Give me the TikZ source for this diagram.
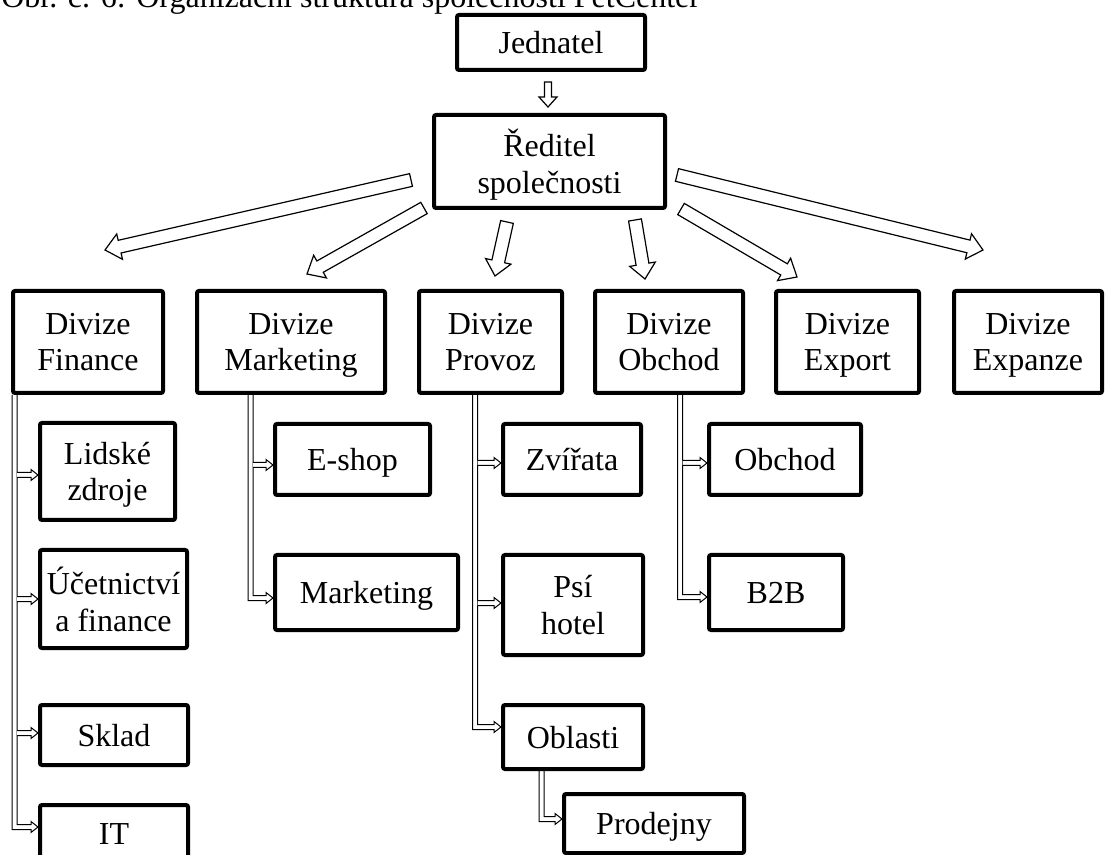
\documentclass[tikz,border=0pt]{standalone}
\usepackage{fontspec}
\setmainfont{Liberation Serif}
\usetikzlibrary{positioning, calc, backgrounds}

\begin{document}
\begin{tikzpicture}[
    x=0.75pt, y=-0.75pt,
    font=\fontsize{24}{27.5}\selectfont,
    box/.style={draw, line width=3pt, rounded corners=1.5pt, align=center, inner sep=0pt, text depth=0pt},
    blk/.style n args={3}{draw, fill=white, line width=0.9pt, line join=miter, to path={
        ($(\tikztostart)!#1!90:(\tikztotarget)$)
        -- ($(\tikztotarget)!#3!(\tikztostart)!#1!90:(\tikztotarget)$)
        -- ($(\tikztotarget)!#3!(\tikztostart)!#2!90:(\tikztotarget)$)
        -- (\tikztotarget)
        -- ($(\tikztotarget)!#3!(\tikztostart)!#2!-90:(\tikztotarget)$)
        -- ($(\tikztotarget)!#3!(\tikztostart)!#1!-90:(\tikztotarget)$)
        -- ($(\tikztostart)!#1!-90:(\tikztotarget)$) -- cycle}},
    barr/.style={blk={4.875pt}{9.75pt}{11.25pt}},
    sarr/.style={blk={2.625pt}{6.75pt}{7.5pt}},
    elb/.style={draw, fill=white, line width=0.75pt, line join=miter, to path={
        let \p1=(\tikztostart), \p2=(\tikztotarget) in
        (\x1-1.875pt,\y1) -- (\x1-1.875pt,\y2-1.875pt) -- (\x2-5.25pt,\y2-1.875pt)
        -- (\x2-5.25pt,\y2-4.125pt) -- (\x2,\y2) -- (\x2-5.25pt,\y2+4.125pt)
        -- (\x2-5.25pt,\y2+1.875pt) -- (\x1+1.875pt,\y2+1.875pt) -- (\x1+1.875pt,\y1)}},
    brn/.style={draw, fill=white, line width=0.75pt, line join=miter, to path={
        let \p1=(\tikztostart), \p2=(\tikztotarget) in
        (\x1+1.875pt,\y2+1.875pt) -- (\x2-5.25pt,\y2+1.875pt) -- (\x2-5.25pt,\y2+4.125pt)
        -- (\x2,\y2) -- (\x2-5.25pt,\y2-4.125pt) -- (\x2-5.25pt,\y2-1.875pt)
        -- (\x1+1.875pt,\y2-1.875pt)}},
  ]
  \useasboundingbox (0,0) rectangle (1111,855);

  \node[anchor=base west, inner sep=0pt] (title) at (1,8) {Obr. č. 6: Organizační struktura společnosti PetCenter};

  % top
  \node[box, minimum width=141pt, minimum height=41.25pt] (jed) at (551,42.5) {Jednatel};
  \node[box, minimum width=173.25pt, minimum height=69.75pt] (red) at (549.5,161.5) {Ředitel\\společnosti};

  % divisions
  \node[box, minimum width=112.5pt, minimum height=76.5pt] (fin) at (88,342) {Divize\\Finance};
  \node[box, minimum width=141pt, minimum height=76.5pt] (mkt) at (291,342) {Divize\\Marketing};
  \node[box, minimum width=107.25pt, minimum height=76.5pt] (prov) at (490.5,342) {Divize\\Provoz};
  \node[box, minimum width=111pt, minimum height=76.5pt] (obch) at (669,342) {Divize\\Obchod};
  \node[box, minimum width=107.25pt, minimum height=76.5pt] (exp) at (847.5,342) {Divize\\Export};
  \node[box, minimum width=111pt, minimum height=76.5pt] (expz) at (1028,342) {Divize\\Expanze};

  % finance
  \node[box, minimum width=101.25pt, minimum height=72.75pt] (lz) at (107.5,471.5) {Lidské\\zdroje};
  \node[box, minimum width=110.25pt, minimum height=73.5pt, below=19.5pt of lz.south west, anchor=north west] (uf) {Účetnictví\\a finance};
  \node[box, minimum width=111pt, minimum height=45pt, below=39.75pt of uf.south west, anchor=north west] (skl) {Sklad};
  \node[box, minimum width=111pt, minimum height=43.5pt, below=27pt of skl.south west, anchor=north west] (it) {IT};

  % marketing
  \node[box, minimum width=116.25pt, minimum height=53.25pt] (esh) at (352.5,459.5) {E-shop};
  \node[box, minimum width=137.25pt, minimum height=56.25pt, below=42pt of esh.south west, anchor=north west] (mkg) {Marketing};

  % provoz
  \node[box, minimum width=103.5pt, minimum height=53.25pt] (zv) at (572,459.5) {Zvířata};
  \node[box, minimum width=105pt, minimum height=75pt, below=42pt of zv.south west, anchor=north west] (psi) {Psí\\hotel};
  \node[box, minimum width=105pt, minimum height=48pt, below=34.5pt of psi.south west, anchor=north west] (obl) {Oblasti};
  \node[box, minimum width=135pt, minimum height=44.25pt, below right=15.75pt and 45.75pt of obl.south west, anchor=north west] (prod) {Prodejny};

  % obchod
  \node[box, minimum width=114pt, minimum height=53.25pt] (obc) at (785,459.5) {Obchod};
  \node[box, minimum width=100.5pt, minimum height=56.25pt, below=42pt of obc.south west, anchor=north west] (b2b) {B2B};

  \begin{scope}[on background layer]
    \draw[sarr] ([shift={(-3,10)}]jed.south) to ([shift={(-1.5,-6)}]red.north);

    \draw[barr] ([shift={(-21,-30)}]red.south west) to ([shift={(17,-39)}]fin.north);
    \draw[barr] ([shift={(-8,-2)}]red.south west) to ([shift={(16,-15)}]mkt.north);
    \draw[barr] ([shift={(-42.5,12)}]red.south) to ([shift={(4.5,-13)}]prov.north);
    \draw[barr] ([shift={(85.5,10)}]red.south) to ([shift={(-24,-10)}]obch.north);
    \draw[barr] ([shift={(14,-1)}]red.south east) to ([shift={(-50.5,-12)}]exp.north);
    \draw[barr] ([shift={(10,-35)}]red.south east) to ([shift={(-45,-39)}]expz.north);

    % finance
    \draw[elb] ([shift={(3.5,0)}]fin.south west) to ([shift={(0,-7)}]it.west);
    \draw[brn] ([shift={(3.5,0)}]fin.south west) to ([shift={(0,3.5)}]lz.west);
    \draw[brn] ([shift={(3.5,0)}]fin.south west) to (uf.west);
    \draw[brn] ([shift={(3.5,0)}]fin.south west) to ([shift={(0,-2)}]skl.west);

    % marketing
    \draw[elb] ([shift={(55.5,0)}]mkt.south west) to ([shift={(0,5.5)}]mkg.west);
    \draw[brn] ([shift={(55.5,0)}]mkt.south west) to ([shift={(0,5.5)}]esh.west);

    % provoz
    \draw[elb] ([shift={(58,0)}]prov.south west) to ([shift={(0,-10)}]obl.west);
    \draw[brn] ([shift={(58,0)}]prov.south west) to ([shift={(0,3.5)}]zv.west);
    \draw[brn] ([shift={(58,0)}]prov.south west) to ([shift={(0,-2)}]psi.west);
    \draw[elb] ([shift={(40.5,0)}]obl.south west) to ([shift={(0,-4.5)}]prod.west);

    % obchod
    \draw[elb] ([shift={(87,0)}]obch.south west) to ([shift={(0,4.5)}]b2b.west);
    \draw[brn] ([shift={(87,0)}]obch.south west) to ([shift={(0,3.5)}]obc.west);
  \end{scope}
\end{tikzpicture}
\end{document}
